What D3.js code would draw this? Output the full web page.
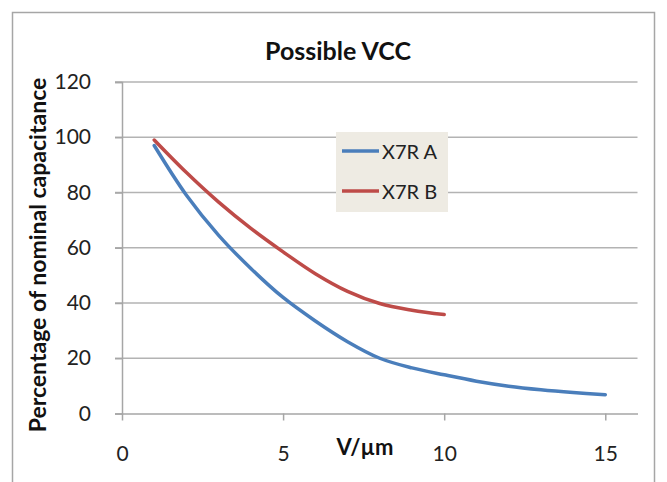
<!DOCTYPE html>
<html><head><meta charset="utf-8">
<script src="https://cdnjs.cloudflare.com/ajax/libs/d3/7.8.5/d3.min.js"></script>
<style>body{margin:0;background:#fff}svg{display:block}</style>
</head><body>
<script>
const title = "Possible VCC";
const xTitle = "V/µm";
const yTitle = "Percentage of nominal capacitance";
const xTicks = [0, 5, 10, 15];
const yTicks = [0, 20, 40, 60, 80, 100, 120];
const seriesNames = ["X7R A", "X7R B"];
const xA = [1, 2, 3, 4, 5, 6, 7, 8, 9, 10, 11, 12, 13, 14, 15];
const yA = [97, 79, 64.5, 52.5, 42, 33.5, 26, 20, 16.5, 14, 11.7, 9.9, 8.6, 7.6, 6.8];
const xB = [1, 2, 3, 4, 5, 6, 7, 8, 9, 10];
const yB = [99, 87.2, 76.5, 67, 58.5, 50.6, 44.2, 39.8, 37.4, 35.8];
const colors = ["#4a7ebb", "#be4b48"];

const W = 667, H = 482;
const svg = d3.select("body").append("svg").attr("width", W).attr("height", H);
const font = "Lato, 'Open Sans', sans-serif";

svg.append("rect").attr("x", 12.5).attr("y", 12.5).attr("width", 642).attr("height", 480)
  .attr("fill", "#fff").attr("stroke", "#a6a6a6").attr("stroke-width", 1.5);

const x = d3.scaleLinear().domain([0, 16]).range([122, 637.5]);
const y = d3.scaleLinear().domain([0, 120]).range([413.5, 82]);

// gridlines
svg.append("g").selectAll("line").data(yTicks.filter(d => d > 0)).join("line")
  .attr("x1", x(0) - 7).attr("x2", x(16)).attr("y1", d => y(d)).attr("y2", d => y(d))
  .attr("stroke", "#b3b3b3").attr("stroke-width", 1.5);

// y axis
const ya = svg.append("g").attr("transform", `translate(${x(0)},0)`)
  .call(d3.axisLeft(y).tickValues(yTicks).tickSize(7).tickPadding(24));
ya.select(".domain").attr("stroke", "#a6a6a6").attr("stroke-width", 1.5);
ya.selectAll(".tick line").attr("stroke", "#a6a6a6").attr("stroke-width", 1.5);
ya.selectAll("text").attr("font-family", font).attr("font-size", 21).attr("fill", "#222");

// x axis
const xa = svg.append("g").attr("transform", `translate(0,${y(0)})`)
  .call(d3.axisBottom(x).tickValues(xTicks).tickSize(7).tickSizeOuter(0).tickPadding(26));
xa.select(".domain").attr("stroke", "#a6a6a6").attr("stroke-width", 1.5);
xa.selectAll(".tick line").attr("stroke", "#a6a6a6").attr("stroke-width", 1.5);
xa.selectAll("text").attr("font-family", font).attr("font-size", 21).attr("fill", "#222");

// series
const line = d3.line().x(d => x(d[0])).y(d => y(d[1])).curve(d3.curveCatmullRom.alpha(0.5));
const data = [d3.zip(xA, yA), d3.zip(xB, yB)];
svg.append("g").selectAll("path").data(data).join("path")
  .attr("d", line).attr("fill", "none").attr("stroke", (d, i) => colors[i])
  .attr("stroke-width", 3.5).attr("stroke-linecap", "round");

// title
svg.append("text").attr("x", 338).attr("y", 60).attr("text-anchor", "middle")
  .attr("font-family", font).attr("font-weight", "bold").attr("font-size", 25)
  .attr("fill", "#111").text(title);

// axis titles
svg.append("text").attr("x", 365).attr("y", 455).attr("text-anchor", "middle")
  .attr("font-family", font).attr("font-weight", "bold").attr("font-size", 22)
  .attr("fill", "#111").text(xTitle);
svg.append("text").attr("transform", "translate(46,255) rotate(-90)").attr("text-anchor", "middle")
  .attr("font-family", font).attr("font-weight", "bold").attr("font-size", 23)
  .attr("fill", "#111").text(yTitle);

// legend
const lg = svg.append("g");
lg.append("rect").attr("x", 336).attr("y", 132).attr("width", 112).attr("height", 80)
  .attr("fill", "#eeebe3");
seriesNames.forEach((n, i) => {
  const ly = 151 + i * 40;
  lg.append("line").attr("x1", 342).attr("x2", 379).attr("y1", ly).attr("y2", ly)
    .attr("stroke", colors[i]).attr("stroke-width", 3.5);
  lg.append("text").attr("x", 382).attr("y", ly + 8).attr("font-family", font)
    .attr("font-size", 20).attr("fill", "#222").text(n);
});
</script>
</body></html>
